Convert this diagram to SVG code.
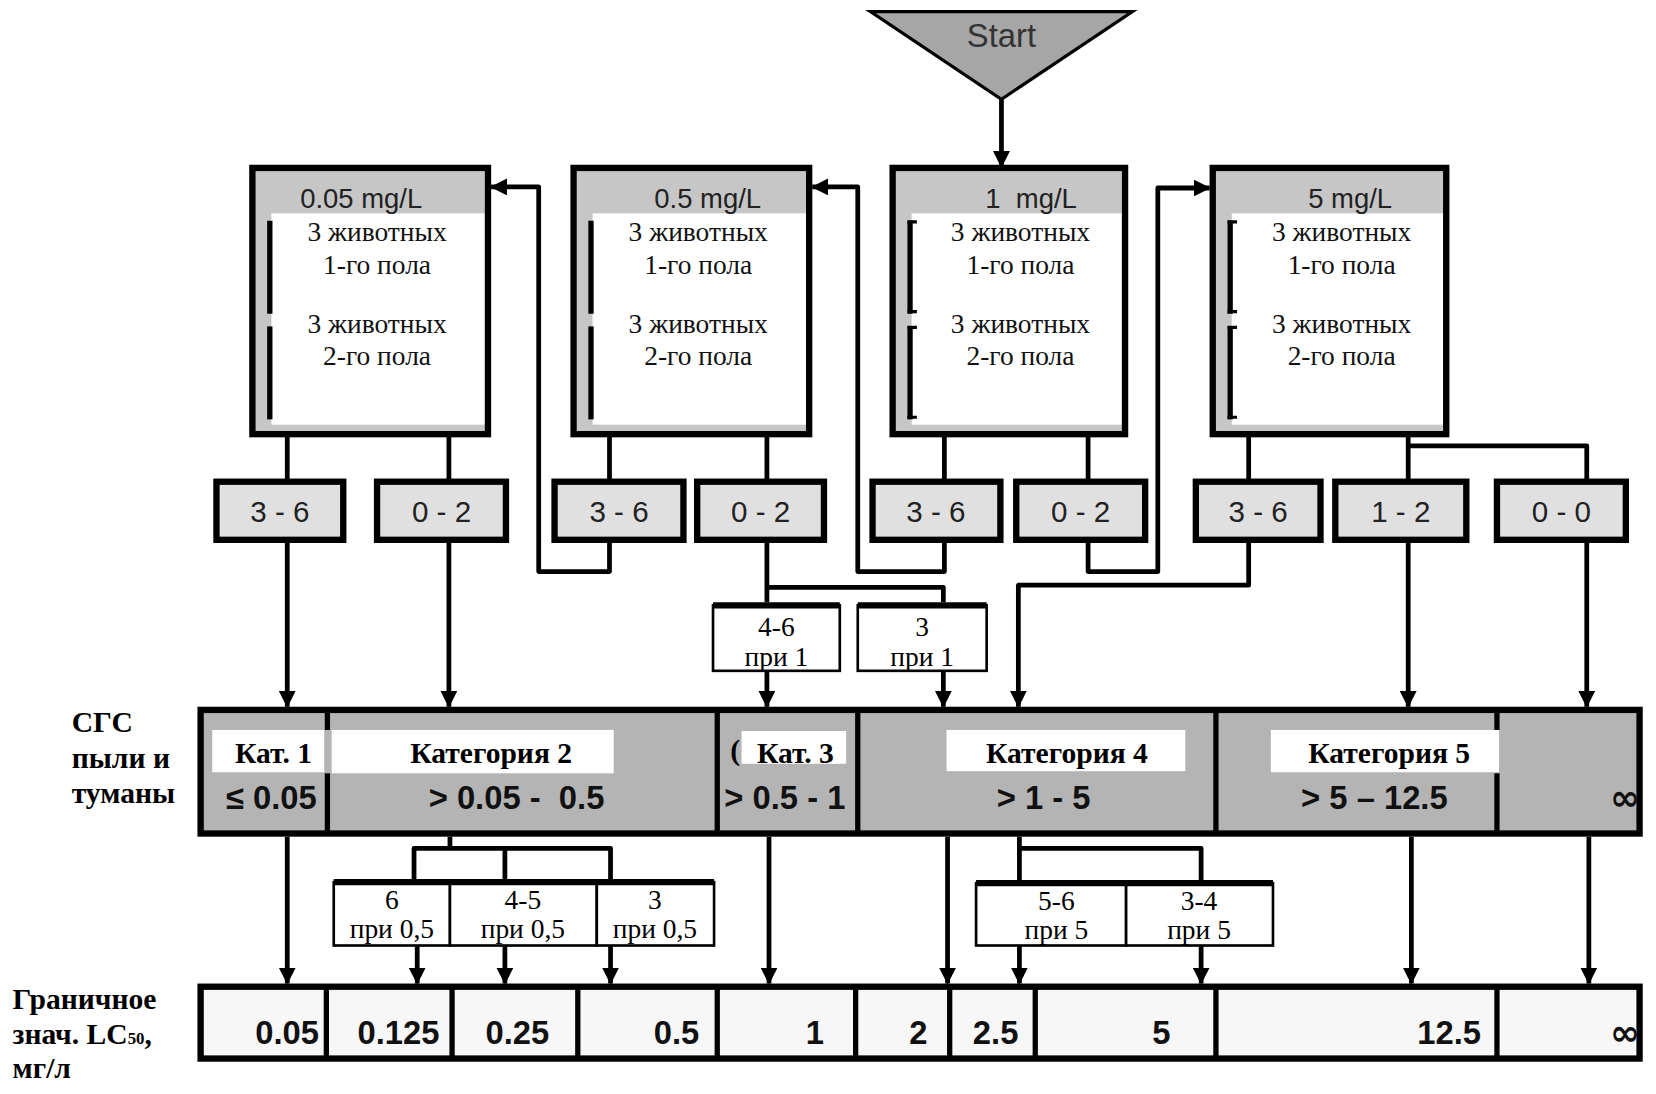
<svg xmlns="http://www.w3.org/2000/svg" width="1656" height="1094" viewBox="0 0 1656 1094">
<style>
.tri{fill:#a6a6a6;stroke:#000;stroke-width:3}
.box{fill:#c6c6c6}
.out{fill:none;stroke:#000;stroke-width:6}
.inner{fill:#fff}
.vbar{fill:#000}
.sbox{fill:#e0e0e0;stroke:#000;stroke-width:6}
.wbox{fill:#fff;stroke:#000;stroke-width:2.5}
.top{stroke:#000;stroke-width:6}
.cat{fill:#b4b4b4}
.div{stroke:#000;stroke-width:5}
.lbl{fill:#fff}
.cell{fill:#f7f7f7}
.conn{fill:none;stroke:#000;stroke-width:4.5;stroke-linejoin:round}
.sans{font-family:"Liberation Sans",Arial,sans-serif}
.serif{font-family:"Liberation Serif","Times New Roman",serif}
.inf{font-family:"DejaVu Sans",sans-serif;font-weight:bold;font-size:34px;fill:#111}
.hdr{font-size:26px;fill:#222;text-anchor:middle}
.body{font-size:26px;fill:#111;text-anchor:middle}
.rng{font-size:28px;fill:#222;text-anchor:middle}
.small{font-size:26px;fill:#000;text-anchor:middle}
.catT{font-size:28px;font-weight:bold;fill:#000;text-anchor:middle}
.catV{font-size:31px;font-weight:bold;fill:#111;text-anchor:middle}
.val{font-size:31px;font-weight:bold;fill:#111;text-anchor:end}
.side{font-size:28px;font-weight:bold;fill:#000}
</style>
<defs>
<marker id="arr" markerUnits="userSpaceOnUse" markerWidth="16" markerHeight="16" refX="15" refY="8" orient="auto">
<path d="M0,0 L16,8 L0,16 z" fill="#000"/>
</marker>
</defs>
<rect width="1656" height="1094" fill="#fff"/>
<g transform="translate(2,1) scale(1.0565)">

<g id="start">
<polygon class="tri" points="822,10 1070,10 946,93"/>
<text class="sans" x="946" y="44" font-size="31" fill="#333" text-anchor="middle">Start</text>
</g>

<g id="box1">
<rect class="box" x="237" y="158" width="223" height="252"/>
<rect class="inner" x="255" y="201" width="202" height="200"/>
<rect class="vbar" x="251" y="208" width="5" height="88"/>
<rect class="vbar" x="251" y="308" width="5" height="88"/>
<rect class="out" x="237" y="158" width="223" height="252"/>
<text class="sans hdr" x="340" y="196">0.05 mg/L</text>
<text class="serif body" x="355" y="227">3 животных</text>
<text class="serif body" x="355" y="258">1-го пола</text>
<text class="serif body" x="355" y="314">3 животных</text>
<text class="serif body" x="355" y="345">2-го пола</text>
</g>

<g id="box2">
<rect class="box" x="541" y="158" width="223" height="252"/>
<rect class="inner" x="559" y="201" width="202" height="200"/>
<rect class="vbar" x="555" y="208" width="5" height="88"/>
<rect class="vbar" x="555" y="308" width="5" height="88"/>
<rect class="out" x="541" y="158" width="223" height="252"/>
<text class="sans hdr" x="668" y="196">0.5 mg/L</text>
<text class="serif body" x="659" y="227">3 животных</text>
<text class="serif body" x="659" y="258">1-го пола</text>
<text class="serif body" x="659" y="314">3 животных</text>
<text class="serif body" x="659" y="345">2-го пола</text>
</g>

<g id="box3">
<rect class="box" x="843" y="158" width="220" height="252"/>
<rect class="inner" x="861" y="201" width="199" height="200"/>
<rect class="vbar" x="857" y="208" width="5" height="88"/>
<rect class="vbar" x="857" y="308" width="5" height="88"/>
<path d="M857,209 h9 M857,294 h9 M857,309 h9 M857,394 h9" stroke="#000" stroke-width="3"/>
<rect class="out" x="843" y="158" width="220" height="252"/>
<text class="sans hdr" x="974" y="196" xml:space="preserve">1  mg/L</text>
<text class="serif body" x="964" y="227">3 животных</text>
<text class="serif body" x="964" y="258">1-го пола</text>
<text class="serif body" x="964" y="314">3 животных</text>
<text class="serif body" x="964" y="345">2-го пола</text>
</g>

<g id="box4">
<rect class="box" x="1146" y="158" width="221" height="252"/>
<rect class="inner" x="1164" y="201" width="200" height="200"/>
<rect class="vbar" x="1160" y="208" width="5" height="88"/>
<rect class="vbar" x="1160" y="308" width="5" height="88"/>
<path d="M1160,209 h9 M1160,294 h9 M1160,309 h9 M1160,394 h9" stroke="#000" stroke-width="3"/>
<rect class="out" x="1146" y="158" width="221" height="252"/>
<text class="sans hdr" x="1276" y="196">5 mg/L</text>
<text class="serif body" x="1268" y="227">3 животных</text>
<text class="serif body" x="1268" y="258">1-го пола</text>
<text class="serif body" x="1268" y="314">3 животных</text>
<text class="serif body" x="1268" y="345">2-го пола</text>
</g>

<g id="r1a"><rect class="sbox" x="203" y="455" width="120" height="55"/><text class="sans rng" x="263" y="493">3 - 6</text></g>
<g id="r1b"><rect class="sbox" x="355" y="455" width="122" height="55"/><text class="sans rng" x="416" y="493">0 - 2</text></g>
<g id="r2a"><rect class="sbox" x="523" y="455" width="122" height="55"/><text class="sans rng" x="584" y="493">3 - 6</text></g>
<g id="r2b"><rect class="sbox" x="658" y="455" width="120" height="55"/><text class="sans rng" x="718" y="493">0 - 2</text></g>
<g id="r3a"><rect class="sbox" x="824" y="455" width="121" height="55"/><text class="sans rng" x="884" y="493">3 - 6</text></g>
<g id="r3b"><rect class="sbox" x="960" y="455" width="122" height="55"/><text class="sans rng" x="1021" y="493">0 - 2</text></g>
<g id="r4a"><rect class="sbox" x="1130" y="455" width="118" height="55"/><text class="sans rng" x="1189" y="493">3 - 6</text></g>
<g id="r4b"><rect class="sbox" x="1262" y="455" width="124" height="55"/><text class="sans rng" x="1324" y="493">1 - 2</text></g>
<g id="r4c"><rect class="sbox" x="1415" y="455" width="122" height="55"/><text class="sans rng" x="1476" y="493">0 - 0</text></g>

<g id="c46">
<rect class="wbox" x="673" y="572" width="120" height="62"/><line class="top" x1="673" y1="572" x2="793" y2="572"/>
<text class="serif small" x="733" y="601">4-6</text><text class="serif small" x="733" y="629">при 1</text>
</g>
<g id="c3">
<rect class="wbox" x="810" y="572" width="122" height="62"/><line class="top" x1="810" y1="572" x2="932" y2="572"/>
<text class="serif small" x="871" y="601">3</text><text class="serif small" x="871" y="629">при 1</text>
</g>

<g id="categories">
<rect class="cat" x="188" y="671" width="1362" height="117"/>
<line class="div" x1="308" y1="671" x2="308" y2="690"/><line class="div" x1="308" y1="731" x2="308" y2="788"/>
<line class="div" x1="677" y1="671" x2="677" y2="788"/>
<line class="div" x1="810" y1="671" x2="810" y2="788"/>
<line class="div" x1="1149" y1="671" x2="1149" y2="788"/>
<line class="div" x1="1415" y1="671" x2="1415" y2="690"/><line class="div" x1="1415" y1="731" x2="1415" y2="788"/>
<rect class="lbl" x="199" y="690" width="106" height="40"/>
<rect class="lbl" x="312" y="690" width="267" height="41"/>
<rect class="lbl" x="700" y="691" width="99" height="31"/>
<rect class="lbl" x="894" y="690" width="226" height="39"/>
<rect class="lbl" x="1201" y="690" width="216" height="40"/>
<text class="serif catT" x="257" y="721">Кат. 1</text>
<text class="serif catT" x="463" y="721">Категория 2</text>
<text class="serif catT" x="694" y="718" font-size="22">(</text>
<text class="serif catT" x="751" y="721">Кат. 3</text>
<text class="serif catT" x="1008" y="721">Категория 4</text>
<text class="serif catT" x="1313" y="721">Категория 5</text>
<text class="sans catV" x="255" y="765">≤ 0.05</text>
<text class="sans catV" x="487" y="765" xml:space="preserve">&gt; 0.05 -  0.5</text>
<text class="sans catV" x="741" y="765">&gt; 0.5 - 1</text>
<text class="sans catV" x="986" y="765">&gt; 1 - 5</text>
<text class="sans catV" x="1299" y="765">&gt; 5 – 12.5</text>
<text class="inf" x="1522" y="766">∞</text>
<rect class="out" x="188" y="671" width="1362" height="117"/>
</g>

<g id="c6">
<rect class="wbox" x="314" y="834" width="110" height="60"/>
<text class="serif small" x="369" y="859">6</text><text class="serif small" x="369" y="887">при 0,5</text>
</g>
<g id="c45">
<rect class="wbox" x="424" y="834" width="139" height="60"/>
<text class="serif small" x="493" y="859">4-5</text><text class="serif small" x="493" y="887">при 0,5</text>
</g>
<g id="c3b">
<rect class="wbox" x="563" y="834" width="111" height="60"/>
<text class="serif small" x="618" y="859">3</text><text class="serif small" x="618" y="887">при 0,5</text>
</g>
<line class="top" x1="314" y1="834" x2="674" y2="834"/>
<g id="c56">
<rect class="wbox" x="922" y="835" width="142" height="59"/>
<text class="serif small" x="998" y="860">5-6</text><text class="serif small" x="998" y="888">при 5</text>
</g>
<g id="c34">
<rect class="wbox" x="1064" y="835" width="139" height="59"/>
<text class="serif small" x="1133" y="860">3-4</text><text class="serif small" x="1133" y="888">при 5</text>
</g>
<line class="top" x1="922" y1="835" x2="1203" y2="835"/>

<g id="lc50">
<rect class="cell" x="188" y="933" width="1362" height="68"/>
<line class="div" x1="307" y1="933" x2="307" y2="1001"/>
<line class="div" x1="426" y1="933" x2="426" y2="1001"/>
<line class="div" x1="545" y1="933" x2="545" y2="1001"/>
<line class="div" x1="677" y1="933" x2="677" y2="1001"/>
<line class="div" x1="808" y1="933" x2="808" y2="1001"/>
<line class="div" x1="897" y1="933" x2="897" y2="1001"/>
<line class="div" x1="978" y1="933" x2="978" y2="1001" stroke-width="3.5"/>
<line class="div" x1="1149" y1="933" x2="1149" y2="1001"/>
<line class="div" x1="1415" y1="933" x2="1415" y2="1001"/>
<text class="sans val" x="300" y="987">0.05</text>
<text class="sans val" x="414" y="987">0.125</text>
<text class="sans val" x="518" y="987">0.25</text>
<text class="sans val" x="660" y="987">0.5</text>
<text class="sans val" x="778" y="987">1</text>
<text class="sans val" x="876" y="987">2</text>
<text class="sans val" x="962" y="987">2.5</text>
<text class="sans val" x="1106" y="987">5</text>
<text class="sans val" x="1400" y="987">12.5</text>
<text class="inf" x="1522" y="988">∞</text>
<rect class="out" x="188" y="933" width="1362" height="68"/>
</g>

<g id="labels">
<text class="serif side" x="66" y="692">СГС</text>
<text class="serif side" x="66" y="726">пыли и</text>
<text class="serif side" x="66" y="759">туманы</text>
<text class="serif side" x="10" y="954">Граничное</text>
<text class="serif side" x="10" y="987">знач. LC<tspan font-size="16">50</tspan>,</text>
<text class="serif side" x="10" y="1019">мг/л</text>
</g>

<g id="connectors">
<path class="conn" d="M946,93 V157" marker-end="url(#arr)"/>
<path class="conn" d="M270,410 V455"/>
<path class="conn" d="M423,410 V455"/>
<path class="conn" d="M575,410 V455"/>
<path class="conn" d="M724,410 V455"/>
<path class="conn" d="M892,410 V455"/>
<path class="conn" d="M1028,410 V455"/>
<path class="conn" d="M1180,410 V455"/>
<path class="conn" d="M1331,410 V455"/>
<path class="conn" d="M1331,421 H1500 V455"/>
<path class="conn" d="M575,510 V540 H508 V176 H463" marker-end="url(#arr)"/>
<path class="conn" d="M892,510 V540 H810 V176 H767" marker-end="url(#arr)"/>
<path class="conn" d="M1028,510 V540 H1094 V177 H1143" marker-end="url(#arr)"/>
<path class="conn" d="M1180,510 V553 H962 V668" marker-end="url(#arr)"/>
<path class="conn" d="M724,510 V569"/>
<path class="conn" d="M724,555 H891 V569"/>
<path class="conn" d="M724,634 V668" marker-end="url(#arr)"/>
<path class="conn" d="M891,634 V668" marker-end="url(#arr)"/>
<path class="conn" d="M270,510 V668" marker-end="url(#arr)"/>
<path class="conn" d="M423,510 V668" marker-end="url(#arr)"/>
<path class="conn" d="M1331,510 V668" marker-end="url(#arr)"/>
<path class="conn" d="M1500,510 V668" marker-end="url(#arr)"/>
<path class="conn" d="M270,791 V930" marker-end="url(#arr)"/>
<path class="conn" d="M424,791 V802"/>
<path class="conn" d="M390,831 V802 H576 V831"/>
<path class="conn" d="M476,802 V831"/>
<path class="conn" d="M393,894 V930" marker-end="url(#arr)"/>
<path class="conn" d="M476,894 V930" marker-end="url(#arr)"/>
<path class="conn" d="M576,894 V930" marker-end="url(#arr)"/>
<path class="conn" d="M726,791 V930" marker-end="url(#arr)"/>
<path class="conn" d="M895,791 V930" marker-end="url(#arr)"/>
<path class="conn" d="M963,791 V832"/>
<path class="conn" d="M963,802 H1135 V832"/>
<path class="conn" d="M963,894 V930" marker-end="url(#arr)"/>
<path class="conn" d="M1135,894 V930" marker-end="url(#arr)"/>
<path class="conn" d="M1334,791 V930" marker-end="url(#arr)"/>
<path class="conn" d="M1502,791 V930" marker-end="url(#arr)"/>
</g>
</g>
</svg>
